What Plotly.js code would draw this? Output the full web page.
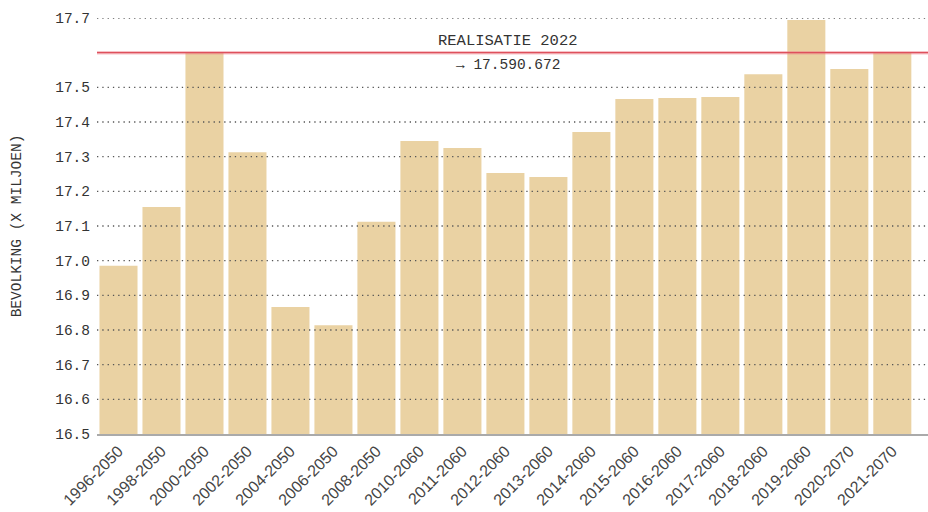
<!DOCTYPE html>
<html>
<head>
<meta charset="utf-8">
<script src="https://cdn.plot.ly/plotly-3.0.1.min.js"></script>
<style>html,body{margin:0;padding:0;background:#fff}#chart{width:928px;height:512px}</style>
</head>
<body>
<div id="chart"></div>
<script>
const categories = ["1996-2050","1998-2050","2000-2050","2002-2050","2004-2050","2006-2050","2008-2050","2010-2060","2011-2060","2012-2060","2013-2060","2014-2060","2015-2060","2016-2060","2017-2060","2018-2060","2019-2060","2020-2070","2021-2070"];
const values = [16.985,17.155,17.600,17.313,16.866,16.814,17.112,17.345,17.325,17.253,17.241,17.371,17.466,17.469,17.472,17.538,17.694,17.553,17.601];
const yTickVals = [16.5,16.6,16.7,16.8,16.9,17.0,17.1,17.2,17.3,17.4,17.5,17.7];
const yTickText = ["16.5","16.6","16.7","16.8","16.9","17.0","17.1","17.2","17.3","17.4","17.5","17.7"];
const realisatieLevel = 17.6;
const realisatieTitle = "REALISATIE 2022";
const realisatieLabel = "→ 17.590.672";

const mono = "Liberation Mono, DejaVu Sans Mono, monospace";
const sans = "Liberation Sans, Arial, sans-serif";

const gridShapes = yTickVals.filter(v => v > 16.5).map(v => ({
  type: 'line', xref: 'paper', x0: 0, x1: 1, yref: 'y', y0: v, y1: v,
  line: {color: '#555', width: 1.3, dash: '1.3px,4px'}, layer: 'above'
}));

const data = [{
  type: 'bar', x: categories, y: values,
  marker: {color: 'rgb(234,210,163)'},
  hoverinfo: 'x+y'
}];

const layout = {
  width: 928, height: 512,
  margin: {l: 97, r: 0, t: 18, b: 78},
  paper_bgcolor: '#fff', plot_bgcolor: '#fff',
  bargap: 0.115,
  showlegend: false,
  xaxis: {
    type: 'category', range: [-0.5, 18.83], tickangle: -45, automargin: false,
    tickfont: {family: sans, size: 16, color: '#444'},
    showgrid: false, showline: true, linecolor: '#aaa', linewidth: 1.5,
    ticks: '', fixedrange: true
  },
  yaxis: {
    range: [16.5, 17.7], tickvals: yTickVals, ticktext: yTickText, automargin: false,
    tickfont: {family: mono, size: 14.5, color: '#333'},
    showgrid: false, zeroline: false, ticks: '', ticklabelstandoff: 6,
    title: {text: 'BEVOLKING (X MILJOEN)', font: {family: mono, size: 14.5, color: '#333'}, standoff: 30},
    fixedrange: true
  },
  shapes: gridShapes.concat([
    {type: 'line', xref: 'paper', x0: 0, x1: 1, yref: 'y', y0: realisatieLevel, y1: realisatieLevel,
     line: {color: 'rgba(235,120,130,0.45)', width: 3.5}, layer: 'above'},
    {type: 'line', xref: 'paper', x0: 0, x1: 1, yref: 'y', y0: realisatieLevel, y1: realisatieLevel,
     line: {color: 'rgb(222,80,92)', width: 1.3}, layer: 'above'}
  ]),
  annotations: [
    {xref: 'paper', x: 0.495, yref: 'y', y: realisatieLevel, text: realisatieTitle, showarrow: false,
     yanchor: 'bottom', yshift: 1, font: {family: mono, size: 15.5, color: '#333'}},
    {xref: 'paper', x: 0.495, yref: 'y', y: realisatieLevel, text: realisatieLabel, showarrow: false,
     yanchor: 'top', yshift: -2, font: {family: mono, size: 14.5, color: '#333'}}
  ]
};

Plotly.newPlot('chart', data, layout, {displayModeBar: false, staticPlot: true});
</script>
</body>
</html>
